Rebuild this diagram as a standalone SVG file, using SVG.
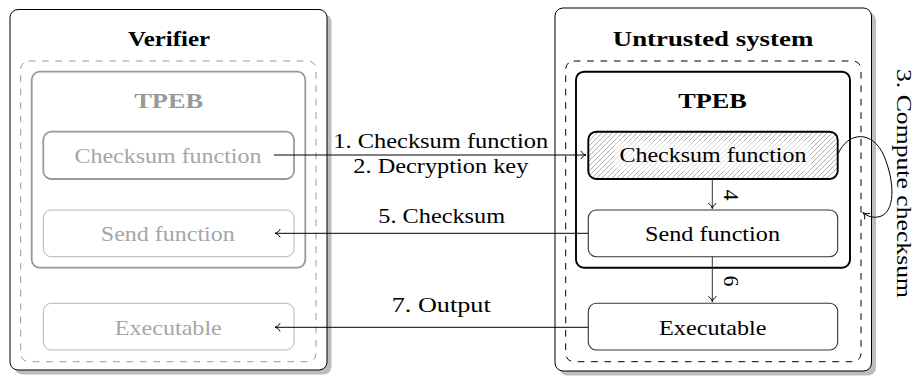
<svg xmlns="http://www.w3.org/2000/svg" width="916" height="376" viewBox="0 0 916 376">
  <defs>
    <style>
      text { font-family: "Liberation Serif", "Times New Roman", Times, serif; font-size: 22px; text-anchor: middle; }
      .title { font-weight: bold; fill: #000; }
      .lbl { fill: #000; }
      .shadow { fill: #bdbdbd; stroke: none; }
      .outer { fill: #fff; stroke: #000; stroke-width: 1; }
      .dash-grey { fill: none; stroke: #999; stroke-width: 1; stroke-dasharray: 6.7 6.7; }
      .dash-black { fill: none; stroke: #000; stroke-width: 1; stroke-dasharray: 6.7 6.7; }
      .tpeb-grey { fill: none; stroke: #999; stroke-width: 1.8; }
      .tpeb-black { fill: none; stroke: #000; stroke-width: 1.9; }
      .node-grey-thick { fill: #fff; stroke: #999; stroke-width: 1.8; }
      .node-grey-thin { fill: #fff; stroke: #b3b3b3; stroke-width: 1; }
      .node-black { fill: #fff; stroke: #333; stroke-width: 1.1; }
      .node-hatched { fill: url(#hatch); stroke: #000; stroke-width: 1.9; }
      .grey-text { fill: #a6a6a6; }
      .grey-bold { fill: #999; font-weight: bold; }
      .edge { fill: none; stroke: #000; stroke-width: 1; marker-end: url(#tip); }
      .edge-grey { fill: none; stroke: #333; stroke-width: 1; marker-end: url(#tip); }
    </style>
    <pattern id="hatch" width="5" height="5" patternUnits="userSpaceOnUse">
      <rect width="5" height="5" fill="#fff"/>
      <path d="M0,5 L5,0 M-1,1 L1,-1 M4,6 L6,4" stroke="#8c8c8c" stroke-width="0.7"/>
    </pattern>
    <marker id="tip" viewBox="-6 -5 7 10" refX="0" refY="0" markerWidth="7" markerHeight="10" markerUnits="userSpaceOnUse" orient="auto">
      <path d="M-5,-3.8 C-4,-1.5 -1.5,-0.4 0,0 C-1.5,0.4 -4,1.5 -5,3.8" fill="none" stroke="#000" stroke-width="1" stroke-linecap="round"/>
    </marker>
  </defs>

  <rect width="916" height="376" fill="#fff"/>

  <!-- Verifier side -->
  <g id="verifier">
    <rect class="shadow" x="14.5" y="14" width="317" height="360.5" rx="8"/>
    <rect class="outer" x="10" y="9.5" width="317" height="360.5" rx="8"/>
    <text class="title" x="169" y="45.5" textLength="82" lengthAdjust="spacingAndGlyphs">Verifier</text>
    <rect class="dash-grey" x="20.7" y="61" width="295.3" height="300.7" rx="8"/>
  </g>
  <g id="verifier-tpeb">
    <rect class="tpeb-grey" x="31.7" y="71.7" width="273.6" height="196" rx="8"/>
    <text class="grey-bold" x="168.7" y="107.7" textLength="69" lengthAdjust="spacingAndGlyphs">TPEB</text>
  </g>
  <g id="verifier-checksum">
    <rect class="node-grey-thick" x="43.3" y="131.7" width="250.7" height="47.3" rx="8"/>
    <text class="grey-text" x="168" y="162.7" textLength="187" lengthAdjust="spacingAndGlyphs">Checksum function</text>
  </g>
  <g id="verifier-send">
    <rect class="node-grey-thin" x="43.3" y="210" width="250.7" height="46.7" rx="8"/>
    <text class="grey-text" x="167.8" y="240.7" textLength="134" lengthAdjust="spacingAndGlyphs">Send function</text>
  </g>
  <g id="verifier-executable">
    <rect class="node-grey-thin" x="43.3" y="303.3" width="250.7" height="46.7" rx="8"/>
    <text class="grey-text" x="168.3" y="334.5" textLength="107" lengthAdjust="spacingAndGlyphs">Executable</text>
  </g>

  <!-- Untrusted system side -->
  <g id="untrusted">
    <rect class="shadow" x="559.5" y="12.5" width="316.5" height="363" rx="8"/>
    <rect class="outer" x="555" y="8" width="316.5" height="363" rx="8"/>
    <text class="title" x="713" y="45.5" textLength="200.5" lengthAdjust="spacingAndGlyphs">Untrusted system</text>
    <rect class="dash-black" x="565.7" y="61" width="295.3" height="300.7" rx="8"/>
  </g>
  <g id="untrusted-tpeb">
    <rect class="tpeb-black" x="576" y="71.7" width="274" height="196" rx="8"/>
    <text class="title" x="712.5" y="107.7" textLength="68.5" lengthAdjust="spacingAndGlyphs">TPEB</text>
  </g>
  <g id="untrusted-checksum">
    <rect class="node-hatched" x="588.3" y="131.7" width="249.4" height="47.3" rx="8"/>
    <rect x="614" y="141" width="197" height="29.5" rx="6" fill="#fff" fill-opacity="0.55"/>
    <text class="lbl" x="713" y="162.3" textLength="187" lengthAdjust="spacingAndGlyphs">Checksum function</text>
  </g>
  <g id="untrusted-send">
    <rect class="node-black" x="588.3" y="210" width="249.4" height="46.7" rx="8"/>
    <text class="lbl" x="712.5" y="240.7" textLength="135" lengthAdjust="spacingAndGlyphs">Send function</text>
  </g>
  <g id="untrusted-executable">
    <rect class="node-black" x="588.3" y="303.3" width="249.4" height="46.7" rx="8"/>
    <text class="lbl" x="712.8" y="335" textLength="107.5" lengthAdjust="spacingAndGlyphs">Executable</text>
  </g>

  <!-- Connectors -->
  <g id="connectors">
    <path class="edge" d="M274,155 H586"/>
    <path class="edge" d="M588,233.3 H275"/>
    <path class="edge" d="M588,327.3 H275"/>
    <path class="edge-grey" d="M712.3,179 V208.5"/>
    <path class="edge-grey" d="M712.3,256.7 V301.7"/>
    <path class="edge" d="M838,154 C848,131 873,130 884,156 C895,182 896,214 878,217 C872,218 867,216 863.3,212.8"/>
  </g>

  <!-- Connector labels -->
  <g id="connector-labels">
    <text class="lbl" x="440.8" y="147.7" textLength="215" lengthAdjust="spacingAndGlyphs">1. Checksum function</text>
    <text class="lbl" x="440.8" y="173.3" textLength="175" lengthAdjust="spacingAndGlyphs">2. Decryption key</text>
    <text class="lbl" x="441.7" y="222.7" textLength="126.7" lengthAdjust="spacingAndGlyphs">5. Checksum</text>
    <text class="lbl" x="441.2" y="312.3" textLength="99" lengthAdjust="spacingAndGlyphs">7. Output</text>
    <text class="lbl" transform="translate(897,183.5) rotate(90)" x="0" y="0" textLength="229" lengthAdjust="spacingAndGlyphs">3. Compute checksum</text>
    <text class="lbl" transform="translate(723.5,195) rotate(90)" x="0" y="0">4</text>
    <text class="lbl" transform="translate(723.5,281) rotate(90)" x="0" y="0">6</text>
  </g>
</svg>
